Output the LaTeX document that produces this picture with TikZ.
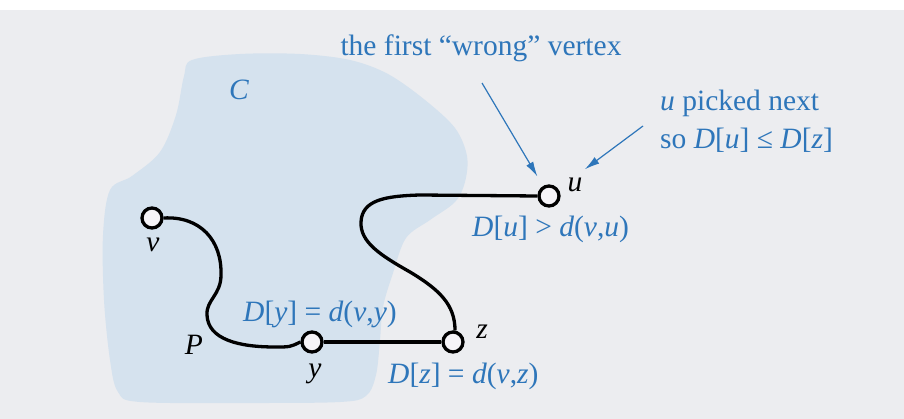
\documentclass[tikz,border=0pt]{standalone}
\usepackage{fontspec}
\setmainfont{Liberation Serif}
\usetikzlibrary{arrows.meta}
\definecolor{scanbg}{RGB}{236,237,240}
\definecolor{blobblue}{RGB}{213,226,238}
\definecolor{inkblue}{RGB}{46,118,186}
\definecolor{dotfill}{RGB}{246,244,248}
\newcommand{\mvar}[1]{\textit{#1}}
\tikzset{
  vertex/.style={circle, draw=black, fill=dotfill, line width=3.3pt,
    minimum size=20pt, inner sep=0pt},
  pathline/.style={line width=3.3pt, draw=black},
  note/.style={text=inkblue, inner sep=0pt,
    font=\fontsize{29.5}{35}\selectfont},
  vlabel/.style={text=black, inner sep=0pt,
    font=\fontsize{29.5}{35}\selectfont\itshape},
  pointer/.style={-{Latex[length=15pt,width=8pt]}, draw=inkblue, line width=1.2pt},
}

\begin{document}
\begin{tikzpicture}[x=1pt,y=-1pt]
\useasboundingbox (0,0) rectangle (904,419);
\fill[white] (0,0) rectangle (904,10);
\fill[scanbg] (0,10) rectangle (904,419);

% the cloud C
\fill[blobblue] plot[smooth cycle, tension=0.55] coordinates {
  (192,60) (240,54) (300,54) (350,60) (388,74) (425,100) (455,128)
  (467,156) (465,182) (455,202) (430,220) (406,238) (393,273)
  (383,307) (380,340) (376,375) (366,396) (340,402) (250,403)
  (140,402) (118,392) (110,360) (104,300) (103,235) (110,190)
  (132,176) (160,152) (176,115) (184,76)};
\node[note, anchor=base] (cname) at (239,100) {\mvar{C}};

\foreach \name/\x/\y in {v/152/218, y/312/342, z/453/342, u/549/196}
  \node[vertex] (\name) at (\x,\y) {};

% path P from v to y, then y--z, then the path from z to u
\draw[pathline] (v.east) .. controls (200,216) and (222,240) .. (221,275)
  .. controls (221,295) and (206,300) .. (207,315)
  .. controls (208,340) and (240,347) .. (275,347)
  .. controls (290,347) .. (y.west);
\draw[pathline] (y) -- (z);
\draw[pathline] (z.80) .. controls (455,305) and (440,290) .. (410,272)
  .. controls (380,255) and (360,242) .. (361,222)
  .. controls (362,200) and (385,196) .. (420,195) -- (u.west);

\node[vlabel, anchor=base] (vname) at (153,252) {v};
\node[vlabel, anchor=base] (yname) at (315,377) {y};
\node[vlabel, anchor=base] (zname) at (482,338) {z};
\node[vlabel, anchor=base] (uname) at (575,192) {u};
\node[vlabel, anchor=base] (pname) at (194,354) {P};

\node[note, anchor=base west] (dyeq) at (243,321)
  {\mvar{D}[\mvar{y}] = \mvar{d}(\mvar{v},\mvar{y})};
\node[note, anchor=base west] (dzeq) at (388,383)
  {\mvar{D}[\mvar{z}] = \mvar{d}(\mvar{v},\mvar{z})};
\node[note, anchor=base west] (dueq) at (472,237)
  {\mvar{D}[\mvar{u}] > \mvar{d}(\mvar{v},\mvar{u})};

\node[note, anchor=base] (wrong) at (481,56) {the first “wrong” vertex};
\node[note, anchor=base west] (picked) at (660,111) {\mvar{u} picked next};
\node[note, anchor=base west] (sonext) at (660,149)
  {so \mvar{D}[\mvar{u}] ≤ \mvar{D}[\mvar{z}]};

\coordinate (wtail) at (482,83);
\coordinate (ntail) at (643,126);
\draw[pointer, shorten >=11pt] (wtail) -- (u);
\draw[pointer, shorten >=33pt] (ntail) -- (u);
\end{tikzpicture}
\end{document}
